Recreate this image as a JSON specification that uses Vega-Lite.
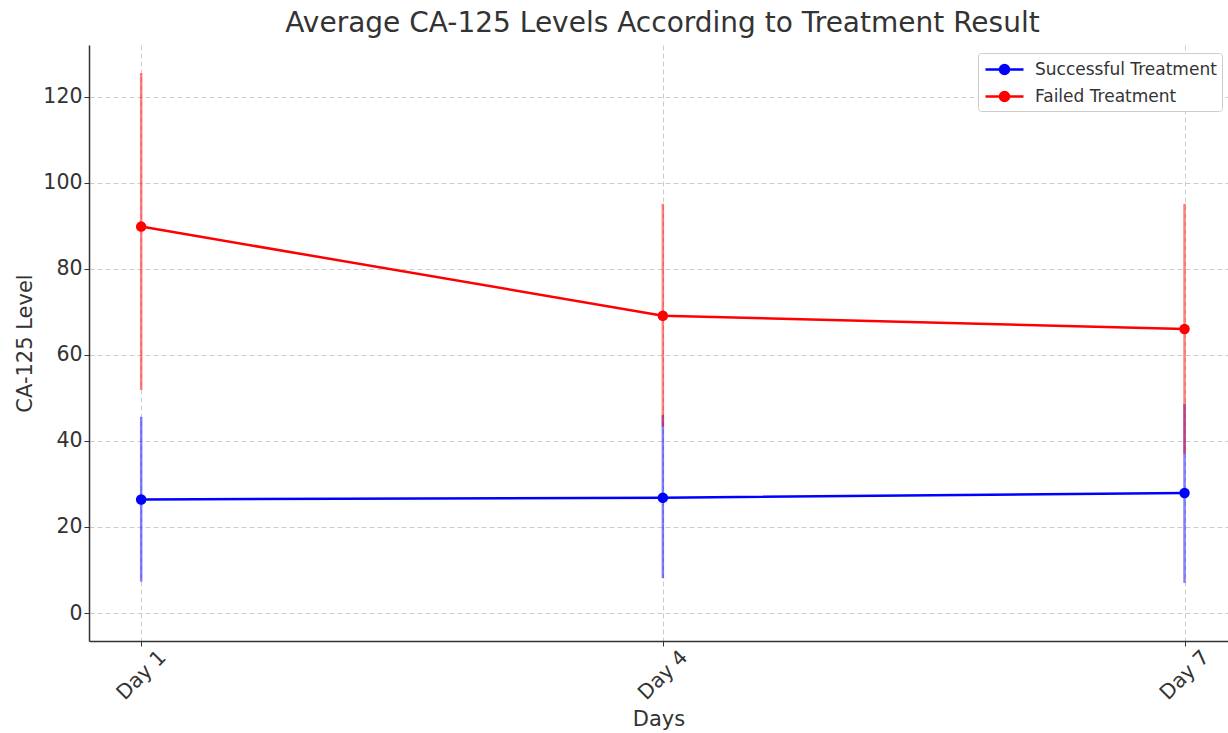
{
  "$schema": "https://vega.github.io/schema/vega-lite/v6.json",
  "autosize": {"type": "none"},
  "width": 1139,
  "height": 596,
  "padding": {"left": 89, "top": 45, "right": 0, "bottom": 92},
  "background": "white",
  "config": {
    "font": "DejaVu Sans",
    "view": {"stroke": null},
    "axis": {
      "labelFont": "DejaVu Sans",
      "titleFont": "DejaVu Sans",
      "labelFontSize": 20.5,
      "titleFontSize": 21,
      "titleFontWeight": "normal",
      "labelColor": "#333333",
      "titleColor": "#333333",
      "domainColor": "#333333",
      "domainWidth": 1.5,
      "tickColor": "#333333",
      "tickSize": 5,
      "gridColor": "#cccccc",
      "gridDash": [5, 3],
      "gridWidth": 1
    },
    "legend": {
      "labelFont": "DejaVu Sans",
      "labelFontSize": 17,
      "labelColor": "#333333"
    }
  },
  "title": {
    "text": "Average CA-125 Levels According to Treatment Result",
    "fontSize": 28,
    "font": "DejaVu Sans",
    "fontWeight": "normal",
    "color": "#333333",
    "anchor": "middle",
    "offset": 7,
    "dx": 4
  },
  "data": {
    "values": [
      {"day": 1, "group": "Successful Treatment", "mean": 26.4, "lo": 7.3, "hi": 45.6},
      {"day": 4, "group": "Successful Treatment", "mean": 26.8, "lo": 8.1, "hi": 46.0},
      {"day": 7, "group": "Successful Treatment", "mean": 27.9, "lo": 7.0, "hi": 48.6},
      {"day": 1, "group": "Failed Treatment", "mean": 89.8, "lo": 51.8, "hi": 125.5},
      {"day": 4, "group": "Failed Treatment", "mean": 69.1, "lo": 43.3, "hi": 95.1},
      {"day": 7, "group": "Failed Treatment", "mean": 66.0, "lo": 37.0, "hi": 95.1}
    ]
  },
  "encoding": {
    "x": {
      "field": "day",
      "type": "quantitative",
      "scale": {"domain": [0.7, 7.25], "nice": false, "zero": false},
      "axis": {
        "title": "Days",
        "values": [1, 4, 7],
        "labelExpr": "'Day ' + datum.value",
        "labelAngle": -45,
        "labelAlign": "center",
        "labelBaseline": "middle",
        "labelPadding": 29,
        "titlePadding": 5,
        "grid": true
      }
    },
    "color": {
      "field": "group",
      "type": "nominal",
      "scale": {"domain": ["Successful Treatment", "Failed Treatment"], "range": ["#0000ff", "#ff0000"]},
      "legend": {
        "title": null,
        "orient": "none",
        "legendX": 889,
        "legendY": 8,
        "symbolType": "M-1.9,0L1.9,0M-0.45,0A0.45,0.45 0 1,1 0.45,0A0.45,0.45 0 1,1 -0.45,0Z",
        "symbolSize": 400,
        "symbolStrokeWidth": 2.5,
        "symbolOpacity": 1,
        "symbolOffset": 10,
        "labelOffset": 19,
        "labelLimit": 300,
        "rowPadding": 6,
        "padding": 5,
        "strokeColor": "#cccccc",
        "fillColor": "white",
        "cornerRadius": 3
      }
    }
  },
  "layer": [
    {
      "mark": {"type": "rule", "strokeWidth": 2.5, "opacity": 0.5},
      "encoding": {
        "y": {
          "field": "lo",
          "type": "quantitative",
          "scale": {"domain": [-6.5, 132], "nice": false, "zero": false},
          "axis": {
            "title": "CA-125 Level",
            "values": [0, 20, 40, 60, 80, 100, 120],
            "titlePadding": 7,
            "labelPadding": 2,
            "grid": true
          }
        },
        "y2": {"field": "hi"}
      }
    },
    {
      "mark": {"type": "line", "strokeWidth": 2.5, "point": {"size": 110, "filled": true, "opacity": 1}},
      "encoding": {
        "y": {"field": "mean", "type": "quantitative"}
      }
    }
  ]
}
